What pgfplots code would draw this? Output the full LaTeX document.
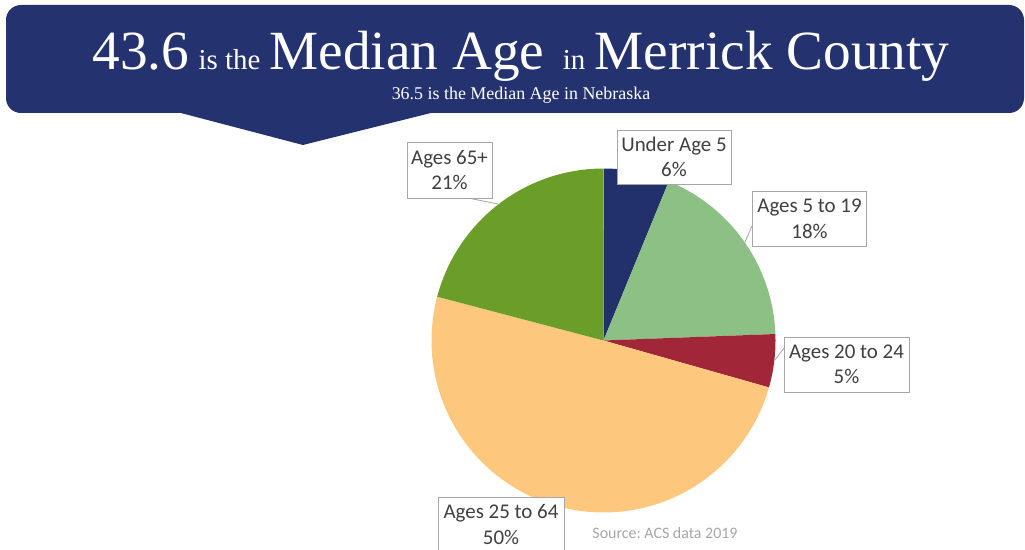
\documentclass[border=0pt]{standalone}
\usepackage{pgfplots}
\pgfplotsset{compat=1.18}
\usepackage{fontspec}
\setmainfont{Carlito}
\newfontfamily\tnr{Liberation Serif}
\frenchspacing
\definecolor{Navy}{HTML}{243270}
\definecolor{SliceA}{HTML}{22306B}
\definecolor{SliceB}{HTML}{8CC084}
\definecolor{SliceC}{HTML}{A02638}
\definecolor{SliceD}{HTML}{FDC87D}
\definecolor{SliceE}{HTML}{6A9E28}
\definecolor{LblText}{HTML}{404040}
\definecolor{LblLine}{HTML}{A6A6A6}

% one pie slice: cumulative share from #1 to #2 (percent), clockwise from the top
\newcommand{\slice}[3]{%
  \addplot[draw=none,fill=#3,domain=#1:#2,samples=90,variable=\t]
    ({603.5+172*sin(3.6*\t)},{340.5-172*cos(3.6*\t)}) -- (axis cs:603.5,340.5) -- cycle;}

\tikzset{lbl/.style={draw=LblLine,fill=white,line width=.8pt,text=LblText,
  font=\fontsize{21}{25.5}\selectfont,align=center,inner sep=0pt}}

\begin{document}
\begin{tikzpicture}
\begin{axis}[name=ax,width=1025bp,height=550bp,scale only axis,
  xmin=0,xmax=1025,ymin=0,ymax=550,y dir=reverse,hide axis,clip=false]
% banner with pointer
\fill[Navy,rounded corners=15pt] (axis cs:6,5) -- (axis cs:1024,5) -- (axis cs:1024,113) -- (axis cs:6,113) -- cycle;
\fill[Navy] (axis cs:177,112) -- (axis cs:303,145) -- (axis cs:435,112) -- cycle;
\node[anchor=base,text=white,inner sep=0pt] at (axis cs:521,70)
  {\tnr\fontsize{55.5}{60}\selectfont 43.6\,{\fontsize{29}{30}\selectfont is the}\,Median Age\,\,{\fontsize{29}{30}\selectfont in}\,Merrick County};
\node[anchor=base,text=white,inner sep=0pt] at (axis cs:521,100)
  {\tnr\fontsize{18}{20}\selectfont 36.5 is the Median Age in Nebraska};
% shares: 6.2, 18.2, 5.0, 49.7, 20.9 percent
\slice{0}{6.2}{SliceA}
\slice{6.2}{24.4}{SliceB}
\slice{24.4}{29.4}{SliceC}
\slice{29.4}{79.1}{SliceD}
\slice{79.1}{100}{SliceE}
% leader lines
\draw[LblLine,line width=.8pt] (axis cs:468,198) -- (axis cs:498,204);
\draw[LblLine,line width=.8pt] (axis cs:752,226) -- (axis cs:745,242);
\draw[LblLine,line width=.8pt] (axis cs:784,348) -- (axis cs:775,360);
% labels
\node[lbl,minimum width=114bp,minimum height=54bp] at (axis cs:674,157) {Under Age 5\\6\%};
\node[lbl,minimum width=114bp,minimum height=55bp] at (axis cs:809.5,219) {Ages 5 to 19\\18\%};
\node[lbl,minimum width=125bp,minimum height=55bp] at (axis cs:846.5,364.5) {Ages 20 to 24\\5\%};
\node[lbl,minimum width=126bp,minimum height=55bp] at (axis cs:501,524.5) {Ages 25 to 64\\50\%};
\node[lbl,minimum width=85bp,minimum height=56bp] at (axis cs:449.5,170) {Ages 65+\\21\%};
\node[anchor=base,text=LblLine,inner sep=0pt,font=\fontsize{16}{18}\selectfont] at (axis cs:665,538) {Source: ACS data 2019};
\end{axis}
\pgfresetboundingbox
\useasboundingbox (ax.south west) rectangle (ax.north east);
\end{tikzpicture}
\end{document}
